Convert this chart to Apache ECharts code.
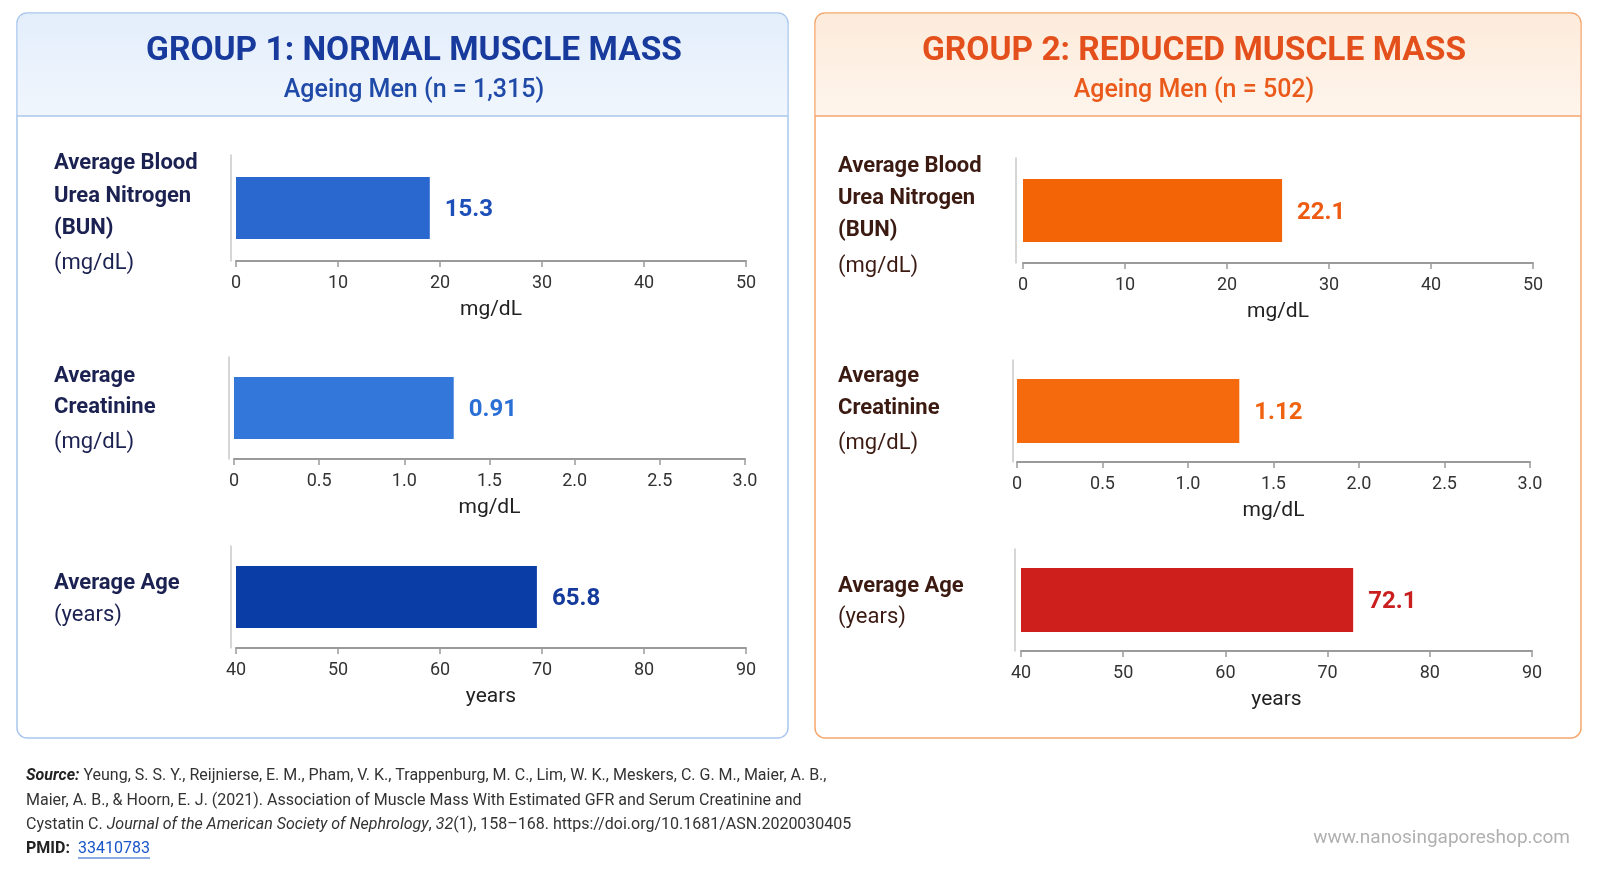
<!DOCTYPE html>
<html>
<head>
<meta charset="utf-8">
<title>Muscle mass and kidney markers</title>
<script src="https://cdn.jsdelivr.net/npm/echarts@6/dist/echarts.min.js"></script>
<style>
html,body{margin:0;padding:0;background:#fff;}
#main{width:1600px;height:878px;}
</style>
</head>
<body>
<div id="main"></div>
<script>
// values
var groupTitles = ['GROUP 1: NORMAL MUSCLE MASS', 'GROUP 2: REDUCED MUSCLE MASS'];
var groupSubtitles = ['Ageing Men (n = 1,315)', 'Ageing Men (n = 502)'];
var metrics = ['BUN', 'Creatinine', 'Age'];
var metricLines = [
    [['Average Blood', 1], ['Urea Nitrogen', 1], ['(BUN)', 1], ['(mg/dL)', 0]],
    [['Average', 1], ['Creatinine', 1], ['(mg/dL)', 0]],
    [['Average Age', 1], ['(years)', 0]]
];
var axisNames = ['mg/dL', 'mg/dL', 'years'];
// printed numbers next to the bars
var group1Labels = ['15.3', '0.91', '65.8'];
var group2Labels = ['22.1', '1.12', '72.1'];
// bar lengths as they are drawn against the axes (longer than the printed numbers)
var group1Bars = [19.0, 1.29, 69.5];
var group2Bars = [25.4, 1.30, 72.5];
// tick labels
var bunTicks = ['0', '10', '20', '30', '40', '50'];
var creTicks = ['0', '0.5', '1.0', '1.5', '2.0', '2.5', '3.0'];
var ageTicks = ['40', '50', '60', '70', '80', '90'];

var FONT = 'Roboto, "Noto Sans", sans-serif';
var tickSets = [bunTicks, creTicks, ageTicks];

// layout of the six small plots
var grids = [
    {left: 236, top: 155, width: 510, height: 106, off: 5.5, bw: 62},
    {left: 234, top: 357, width: 511, height: 102, off: 5, bw: 62},
    {left: 236, top: 546, width: 510, height: 102, off: 5, bw: 62},
    {left: 1023, top: 158, width: 510, height: 105, off: 7, bw: 63},
    {left: 1017, top: 360, width: 513, height: 102, off: 4, bw: 64},
    {left: 1021, top: 549, width: 511, height: 102, off: 6, bw: 64}
];
var barColors = [['#2a68d0', '#3377da', '#0a3da6'], ['#f26406', '#f46a0c', '#cf1f1c']];
var labelColors = [['#1d4fb8', '#2a6fd6', '#143a9c'], ['#ee5a12', '#f0620f', '#c91f1f']];
var textColors = ['#1b2150', '#3b1a12'];
var labelY = [
    [[163, 196, 228, 263], [376, 407, 442], [583, 615]],
    [[166, 198, 230, 266], [376, 408, 443], [586, 617]]
];
var labelX = [54, 838];

var gridOpt = [], xAxes = [], yAxes = [], series = [];
for (var g = 0; g < 2; g++) {
    var bars = g == 0 ? group1Bars : group2Bars;
    var labs = g == 0 ? group1Labels : group2Labels;
    for (var m = 0; m < 3; m++) {
        var i = g * 3 + m;
        var L = grids[i];
        var ticks = tickSets[m];
        var tmin = parseFloat(ticks[0]);
        var step = parseFloat(ticks[1]) - tmin;
        gridOpt.push({left: L.left, top: L.top, width: L.width, height: L.height});
        xAxes.push({
            type: 'value', gridIndex: i,
            min: tmin, max: parseFloat(ticks[ticks.length - 1]), interval: step,
            axisLine: {show: true, onZero: false, lineStyle: {color: '#9a9a9a', width: 2}},
            axisTick: {show: true, length: 6, lineStyle: {color: '#9a9a9a', width: 1.5}},
            splitLine: {show: false},
            axisLabel: {
                color: '#333', fontSize: 18, fontFamily: FONT, margin: 13,
                formatter: (function (tk, mn, st) {
                    return function (v) { return tk[Math.round((v - mn) / st)]; };
                })(ticks, tmin, step)
            },
            name: axisNames[m], nameLocation: 'middle', nameGap: 38,
            nameTextStyle: {fontSize: 21, color: '#222', fontFamily: FONT}
        });
        yAxes.push({
            type: 'category', gridIndex: i, data: [metrics[m]], offset: L.off,
            axisLine: {show: true, onZero: false, lineStyle: {color: '#c8c8c8', width: 1.5}},
            axisTick: {show: false}, axisLabel: {show: false}, splitLine: {show: false}
        });
        series.push({
            type: 'bar', xAxisIndex: i, yAxisIndex: i,
            data: [bars[m]], barWidth: L.bw,
            itemStyle: {color: barColors[g][m]},
            label: {
                show: true, position: 'right', distance: 15, offset: [0, 2],
                formatter: (function (s) { return function () { return s; }; })(labs[m]),
                fontSize: 24, fontWeight: 'bold', fontFamily: FONT, color: labelColors[g][m]
            }
        });
    }
}

// panels, headings, row labels, source note
var graphics = [];
var panels = [
    {x: 17, w: 771, stroke: '#a9c7ee', top: '#e3eefb', bot: '#f1f6fd', title: '#173a9c', sub: '#1f4aa8', cx: 414},
    {x: 815, w: 766, stroke: '#f5a66c', top: '#fdebdb', bot: '#fef5ec', title: '#e4501c', sub: '#ea5a1a', cx: 1194}
];
for (var p = 0; p < 2; p++) {
    var P = panels[p];
    graphics.push({type: 'rect', shape: {x: P.x, y: 13, width: P.w, height: 725, r: 10},
        style: {fill: '#fff', stroke: P.stroke, lineWidth: 1.5}});
    graphics.push({type: 'rect', shape: {x: P.x + 0.75, y: 13.75, width: P.w - 1.5, height: 102, r: [9, 9, 0, 0]},
        style: {fill: new echarts.graphic.LinearGradient(0, 0, 0, 1, [{offset: 0, color: P.top}, {offset: 1, color: P.bot}])}});
    graphics.push({type: 'line', shape: {x1: P.x, y1: 116, x2: P.x + P.w, y2: 116},
        style: {stroke: P.stroke, lineWidth: 1.5}});
    graphics.push({type: 'text', x: P.cx, y: 52, style: {text: groupTitles[p], align: 'center', verticalAlign: 'middle',
        fontSize: 33.5, fontWeight: 'bold', fontFamily: FONT, fill: P.title}});
    graphics.push({type: 'text', x: P.cx, y: 91, style: {text: groupSubtitles[p], align: 'center', verticalAlign: 'middle',
        fontSize: 25, fontWeight: 500, fontFamily: FONT, fill: P.sub}});
    for (var m2 = 0; m2 < 3; m2++) {
        var lines = metricLines[m2];
        for (var k = 0; k < lines.length; k++) {
            graphics.push({type: 'text', x: labelX[p], y: labelY[p][m2][k], style: {
                text: lines[k][0], align: 'left', verticalAlign: 'middle', fontSize: 22,
                fontWeight: lines[k][1] ? 'bold' : 'normal', fontFamily: FONT, fill: textColors[p]}});
        }
    }
}

var srcLines = [
    '{bi|Source:} Yeung, S. S. Y., Reijnierse, E. M., Pham, V. K., Trappenburg, M. C., Lim, W. K., Meskers, C. G. M., Maier, A. B.,',
    'Maier, A. B., & Hoorn, E. J. (2021). Association of Muscle Mass With Estimated GFR and Serum Creatinine and',
    'Cystatin C. {i|Journal of the American Society of Nephrology}, {i|32}(1), 158\u2013168. https://doi.org/10.1681/ASN.2020030405',
    '{b|PMID:}'
];
var srcY = [776, 801, 825, 849];
var SF = 16;
for (var s = 0; s < srcLines.length; s++) {
    graphics.push({type: 'text', x: 26, y: srcY[s], style: {
        text: srcLines[s], verticalAlign: 'middle', fontSize: SF, fontFamily: FONT, fill: '#333',
        rich: {
            bi: {fontWeight: 'bold', fontStyle: 'italic', fontSize: SF, fontFamily: FONT, fill: '#222'},
            i: {fontStyle: 'italic', fontSize: SF, fontFamily: FONT, fill: '#333'},
            b: {fontWeight: 'bold', fontSize: SF, fontFamily: FONT, fill: '#222'}
        }}});
}
graphics.push({type: 'text', x: 78, y: 849, style: {text: '33410783', verticalAlign: 'middle', fontSize: SF,
    fontFamily: FONT, fill: '#1a56c9'}});
graphics.push({type: 'line', shape: {x1: 78, y1: 858, x2: 150, y2: 858}, style: {stroke: '#1a56c9', lineWidth: 1}});
graphics.push({type: 'text', x: 1570, y: 838, style: {text: 'www.nanosingaporeshop.com', align: 'right', verticalAlign: 'middle',
    fontSize: 19, fontFamily: FONT, fill: '#b0b0b0'}});

var myChart = echarts.init(document.getElementById('main'));
var option = {
    backgroundColor: '#fff',
    animation: false,
    graphic: {elements: graphics},
    grid: gridOpt,
    xAxis: xAxes,
    yAxis: yAxes,
    series: series
};
myChart.setOption(option);
</script>
</body>
</html>
